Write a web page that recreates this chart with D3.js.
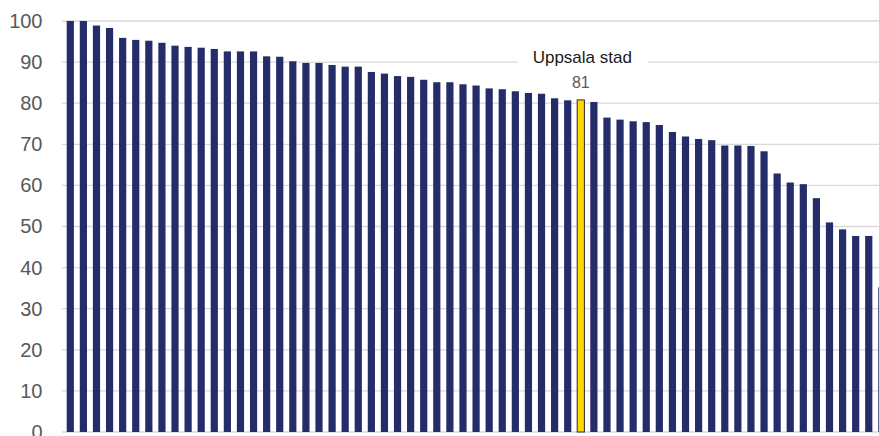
<!DOCTYPE html>
<html>
<head>
<meta charset="utf-8">
<script src="https://cdn.jsdelivr.net/npm/d3@7"></script>
<style>
  html, body { margin: 0; padding: 0; background: #fff; overflow: hidden; }
  svg { display: block; }
</style>
</head>
<body>
<svg id="chart" width="879" height="436"></svg>
<script>
const values = [100, 100, 98.9, 98.3, 95.9, 95.4, 95.2, 94.7, 94.0, 93.7,
  93.5, 93.2, 92.6, 92.6, 92.6, 91.4, 91.3, 90.2, 89.8, 89.8,
  89.3, 88.9, 88.9, 87.6, 87.2, 86.6, 86.4, 85.7, 85.1, 85.1,
  84.6, 84.3, 83.6, 83.4, 82.9, 82.5, 82.3, 81.2, 80.7, 80.8,
  80.3, 76.5, 76.0, 75.6, 75.4, 74.7, 73.0, 71.9, 71.3, 71.0,
  69.7, 69.7, 69.6, 68.3, 62.9, 60.7, 60.3, 56.9, 51.0, 49.3,
  47.7, 47.7, 35.2];
const highlightName = "Uppsala stad";
const highlightIndex = 39;
const categories = values.map((v, i) => i === highlightIndex ? highlightName : "Kommun " + (i + 1));
const yTicks = [0, 10, 20, 30, 40, 50, 60, 70, 80, 90, 100];

const svg = d3.select("#chart");
const x = d3.scaleBand().domain(categories).range([63.75, 888.4])
  .paddingInner(0.45).paddingOuter(0.225);
const y = d3.scaleLinear().domain([0, 100]).range([432, 21]);

// gridlines
svg.append("g").selectAll("line").data(yTicks).join("line")
  .attr("x1", 62).attr("x2", 879)
  .attr("y1", d => y(d)).attr("y2", d => y(d))
  .attr("stroke", "#d9d9d9").attr("stroke-width", 1.3);

// y axis labels
const yAxis = d3.axisLeft(y).tickValues(yTicks).tickSize(0).tickPadding(0);
const gy = svg.append("g").attr("transform", "translate(42.5,0)").call(yAxis);
gy.select(".domain").remove();
gy.selectAll("text")
  .attr("font-family", "'Liberation Sans', Arial, sans-serif")
  .attr("font-size", 20).attr("fill", "#595959");

// bars
svg.append("g").selectAll("rect").data(values).join("rect")
  .attr("x", (d, i) => x(categories[i]))
  .attr("width", x.bandwidth())
  .attr("y", d => y(d))
  .attr("height", d => y(0) - y(d))
  .attr("fill", (d, i) => i === highlightIndex ? "#FFD700" : "#242C69")
  .attr("stroke", (d, i) => i === highlightIndex ? "#2a2a3a" : "none")
  .attr("stroke-width", 1);

// annotation
const hx = x(highlightName) + x.bandwidth() / 2;
svg.append("rect").attr("x", 518).attr("y", 44).attr("width", 130).attr("height", 26).attr("fill", "#fff");
svg.append("text").attr("x", hx + 1.5).attr("y", 63.3)
  .attr("text-anchor", "middle")
  .attr("font-family", "'Liberation Sans', Arial, sans-serif")
  .attr("font-size", 17).attr("fill", "#1a1a1a")
  .text(highlightName);
svg.append("text").attr("x", hx).attr("y", 88.3)
  .attr("text-anchor", "middle")
  .attr("font-family", "'Liberation Sans', Arial, sans-serif")
  .attr("font-size", 16).attr("fill", "#595959")
  .text(d3.format(".0f")(values[highlightIndex]));
</script>
</body>
</html>
